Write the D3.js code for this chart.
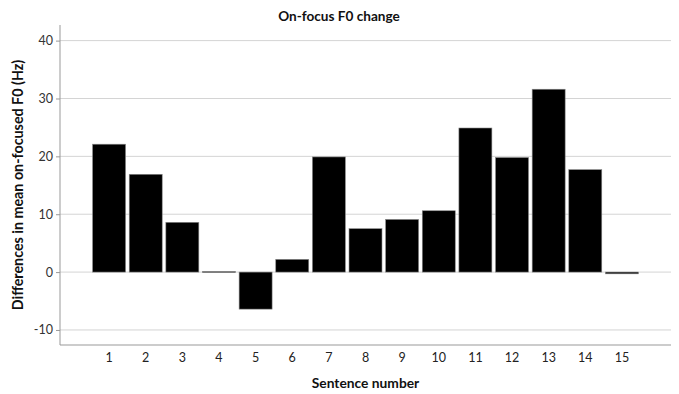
<!DOCTYPE html>
<html><head><meta charset="utf-8">
<script src="https://cdn.jsdelivr.net/npm/d3@7"></script>
<style>
body{margin:0;background:#fff;}
text{font-family:Lato,"DejaVu Sans",sans-serif;}
</style></head>
<body><svg id="c" width="679" height="394"></svg>
<script>
const categories = ["1","2","3","4","5","6","7","8","9","10","11","12","13","14","15"];
const values = [22.1, 16.9, 8.6, 0.1, -6.4, 2.2, 19.9, 7.5, 9.1, 10.6, 24.9, 19.8, 31.6, 17.7, -0.3];
const yTicks = [-10, 0, 10, 20, 30, 40];

const svg = d3.select("#c");
const L = 60, R = 671, T = 25, B = 345;
const x = d3.scaleBand().domain(categories).range([L, R]).paddingInner(0.1).paddingOuter(0.89);
const y = d3.scaleLinear().domain([-12.6, 42.7]).range([B, T]);

// gridlines
svg.append("g").selectAll("line").data(yTicks).join("line")
  .attr("x1", L).attr("x2", R).attr("y1", d => y(d)).attr("y2", d => y(d))
  .attr("stroke", "#d4d4d4").attr("stroke-width", 1);

// bars
svg.append("g").selectAll("rect").data(values).join("rect")
  .attr("x", (d, i) => x(categories[i]))
  .attr("width", x.bandwidth())
  .attr("y", d => y(Math.max(0, d)))
  .attr("height", d => Math.max(1, Math.abs(y(d) - y(0))))
  .attr("fill", "#000").attr("stroke", "#888").attr("stroke-width", 0.6);

// y axis
const ya = svg.append("g").attr("transform", `translate(${L},0)`)
  .call(d3.axisLeft(y).tickValues(yTicks).tickSize(4).tickPadding(3).tickFormat(d => String(d)));
ya.select(".domain").attr("stroke", "#999").attr("d", `M-0,${T}V${B}`);
ya.selectAll(".tick line").attr("stroke", "#999");
ya.selectAll("text").attr("font-size", 12.5).attr("fill", "#333").style("font-family", "Lato");

// x axis
const xa = svg.append("g").attr("transform", `translate(0,${B})`)
  .call(d3.axisBottom(x).tickSize(0).tickPadding(8));
xa.select(".domain").attr("stroke", "#999").attr("d", `M${L},0H${R}`);
xa.selectAll("text").attr("font-size", 12.5).attr("fill", "#222").style("font-family", "Lato");

// title & labels
svg.append("text").attr("x", 339).attr("y", 21).attr("text-anchor", "middle")
  .attr("font-size", 13.6).attr("font-weight", "bold").attr("fill", "#111").text("On-focus F0 change");
svg.append("text").attr("x", (L + R) / 2).attr("y", 388).attr("text-anchor", "middle")
  .attr("font-size", 13.8).attr("font-weight", "bold").attr("fill", "#111").text("Sentence number");
svg.append("text").attr("transform", `translate(23,${(T + B) / 2}) rotate(-90)`).attr("text-anchor", "middle")
  .attr("font-size", 14.3).attr("font-weight", "bold").attr("fill", "#111").text("Differences in mean on-focused F0 (Hz)");
</script></body></html>
